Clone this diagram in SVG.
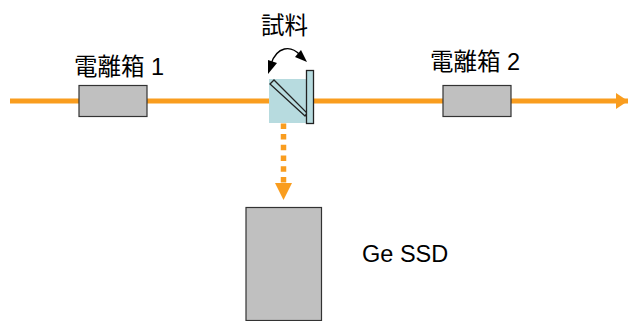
<svg xmlns="http://www.w3.org/2000/svg" width="628" height="321" viewBox="0 0 628 321">
<style>
text{font-family:"Liberation Sans","Noto Sans CJK JP",sans-serif;font-size:23.500px;fill:#000}
.box{fill:#c0c0c0;stroke:#333;stroke-width:1.2}
.beam{stroke:#f99d1f;fill:none}
.opt{fill:#b7dbdf;stroke:#222;stroke-width:1.3}
</style>
<defs>
<marker id="oh" markerUnits="userSpaceOnUse" markerWidth="12" markerHeight="16" refX="12" refY="8" orient="auto"><path d="M0 0L12 8L0 16Z" fill="#f99d1f"/></marker>
</defs>
<g id="connectors">
<path class="beam" stroke-width="5" d="M10 101H628" marker-end="url(#oh)"/>
<path class="beam" stroke-width="5.500" stroke-dasharray="5.500 5.200" d="M283.500 102V184"/>
<path d="M275 183H292L283.500 200Z" fill="#f99d1f"/>
<path d="M271 64C277 46 291 45 300 55" fill="none" stroke="#000" stroke-width="1.3"/>
<path d="M268 74L268 60L277 63Z" fill="#000"/>
<path d="M307 62L295 57L301 50Z" fill="#000"/>
</g>
<g id="chamber1"><rect class="box" x="79" y="85.500" width="68" height="31"/><text x="74" y="74.500">電離箱 1</text></g>
<g id="chamber2"><rect class="box" x="443" y="85.500" width="68" height="31"/><text x="430" y="69.500">電離箱 2</text></g>
<g id="sample">
<rect x="269" y="79" width="37" height="44" fill="#b7dbdf"/>
<path class="opt" d="M270 84L274 80L307 113L305 116Z" fill="#b7dbdf"/>
<rect class="opt" x="306.500" y="70.500" width="7" height="53"/>
<text x="261" y="33.500">試料</text>
</g>
<g id="detector"><rect class="box" x="246" y="207.500" width="75.500" height="113"/><text x="362" y="262">Ge SSD</text></g>
</svg>
